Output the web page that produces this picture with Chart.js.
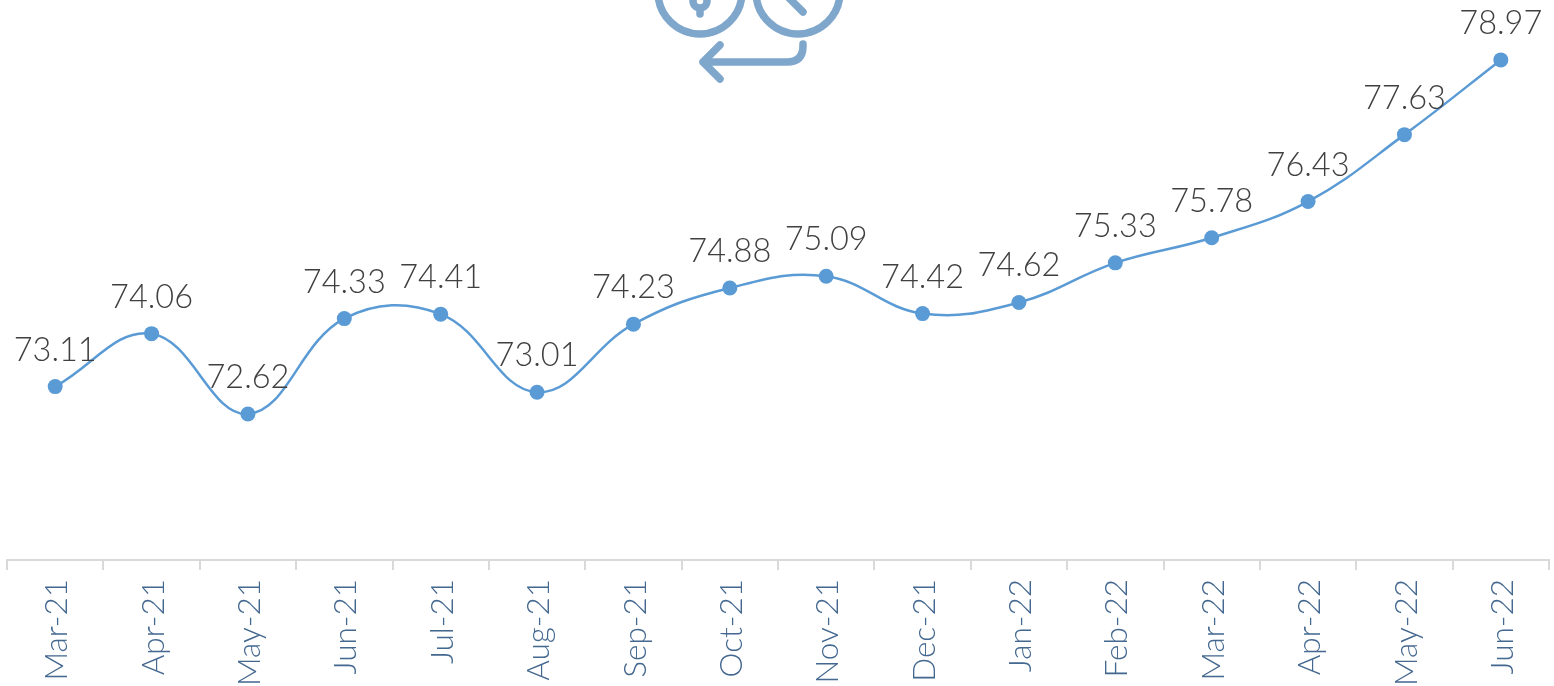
<!DOCTYPE html>
<html><head><meta charset="utf-8">
<style>
html,body{margin:0;padding:0;background:#fff;overflow:hidden}
#wrap{position:relative;width:1554px;height:686px;overflow:hidden}
canvas{position:absolute;left:-4px;top:-5px}
svg{position:absolute;left:0;top:0;pointer-events:none}
</style>
<script src="https://cdn.jsdelivr.net/npm/chart.js@4/dist/chart.umd.min.js"></script>
</head><body>
<div id="wrap">
<canvas id="c" width="1561" height="691"></canvas>
<svg width="1554" height="686" fill="none" stroke="#7fa6cb" stroke-width="7.5" stroke-linecap="round" stroke-linejoin="round">
<circle cx="700" cy="-8" r="42"/>
<circle cx="798" cy="-8" r="42"/>
<circle cx="700" cy="1" r="7"/>
<path d="M700 9V14"/>
<path d="M786 -5L803 12"/>
<path d="M803 44V46Q803 62 787 62H703M720 45L703 62L720 79"/>
</svg>
</div>
<script>
const categories = ["Mar-21","Apr-21","May-21","Jun-21","Jul-21","Aug-21","Sep-21","Oct-21","Nov-21","Dec-21","Jan-22","Feb-22","Mar-22","Apr-22","May-22","Jun-22"];
const values = [73.11,74.06,72.62,74.33,74.41,73.01,74.23,74.88,75.09,74.42,74.62,75.33,75.78,76.43,77.63,78.97];
const labelFont = '300 32.5px Lato';
const valueLabels = {
  id:'valueLabels',
  afterDatasetsDraw(chart){
    const ctx = chart.ctx, pts = chart.getDatasetMeta(0).data;
    ctx.save();
    ctx.font = labelFont; ctx.fillStyle = '#404040';
    ctx.textAlign = 'center'; ctx.textBaseline = 'middle';
    pts.forEach((p,i)=>ctx.fillText(values[i].toFixed(2), p.x, p.y-36.5));
    ctx.restore();
  }
};
new Chart(document.getElementById('c'),{
  type:'line',
  data:{labels:categories,datasets:[{
    data:values,borderColor:'#5b9bd5',backgroundColor:'#5b9bd5',borderWidth:2.5,
    tension:0.4,pointRadius:7.5,pointHoverRadius:7.5,pointBackgroundColor:'#5b9bd5',pointBorderWidth:0,clip:false
  }]},
  options:{
    responsive:false,animation:false,
    layout:{padding:{left:11,right:8,top:7.5,bottom:0}},
    plugins:{legend:{display:false},tooltip:{enabled:false}},
    scales:{
      y:{display:false,min:70,max:80},
      x:{
        offset:true,
        afterFit(s){s.height=126;},
        border:{color:'#d9d9d9',width:2},
        grid:{display:true,drawOnChartArea:false,offset:true,color:'#d9d9d9',lineWidth:2,tickLength:10},
        ticks:{autoSkip:false,minRotation:90,maxRotation:90,padding:9,labelOffset:2,color:'#44688f',font:{family:'Lato',weight:300,size:31.5}}
      }
    }
  },
  plugins:[valueLabels]
});
</script>
</body></html>
